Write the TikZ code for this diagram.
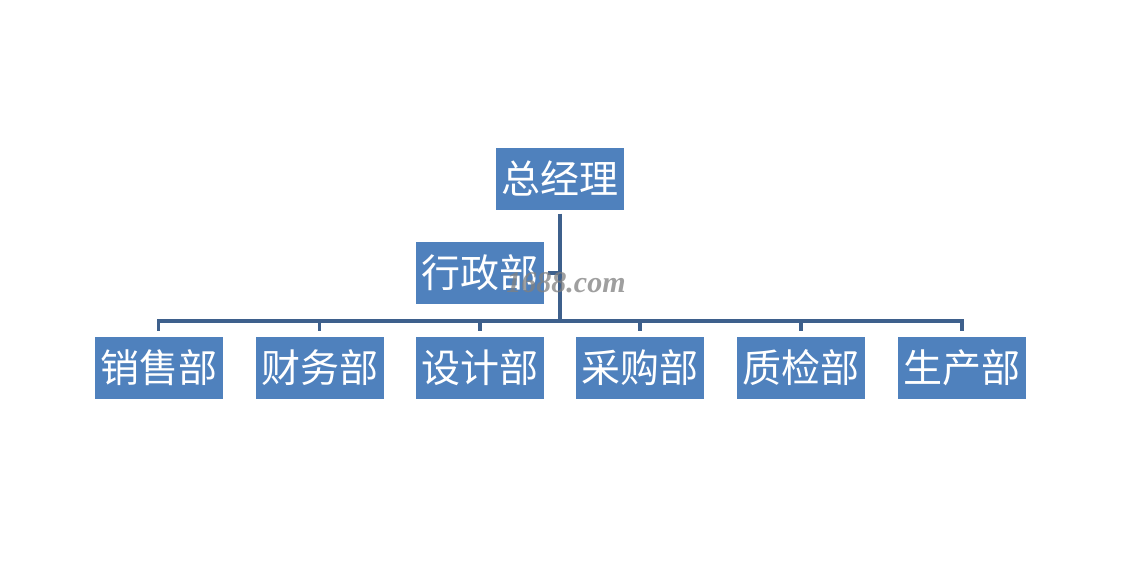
\documentclass[tikz,border=0pt]{standalone}
\usepackage{fontspec}
\newfontfamily\cjk{Noto Sans CJK SC}
\newfontfamily\wmfont{Liberation Serif}
\definecolor{boxblue}{RGB}{79,129,189}
\definecolor{lineblue}{RGB}{62,96,140}
\tikzset{
  dept/.style={fill=boxblue, text=white, minimum width=128pt, minimum height=62pt,
    inner sep=0pt, font=\cjk\fontsize{39}{42}\selectfont},
  conn/.style={draw=lineblue, line width=3.5pt}
}
\begin{document}
\begin{tikzpicture}[x=1pt,y=-1pt]
\useasboundingbox[fill=white] (0,0) rectangle (1129,562);
\node[dept] (zjl) at (560,178.5) {总经理};
\node[dept] (xzb) at (480,273) {行政部};
\node[dept] (b1) at (158.5,367.5) {销售部};
\node[dept] (b2) at (319.5,367.5) {财务部};
\node[dept] (b3) at (480,367.5) {设计部};
\node[dept] (b4) at (640,367.5) {采购部};
\node[dept] (b5) at (801,367.5) {质检部};
\node[dept] (b6) at (962,367.5) {生产部};
\coordinate (bus) at (560,321);
\coordinate (xj) at (560,273);
\draw[conn, shorten <=4pt] (zjl.south) -- (bus);
\draw[conn, shorten <=4pt] (xzb.east) -- (xj);
\foreach \b in {b1,b2,b3,b4,b5,b6}{
  \draw[conn, shorten >=5pt] (bus) -| (\b.north);
}
\node[text=gray, opacity=0.75, font=\wmfont\itshape\bfseries\fontsize{30}{32}\selectfont] (wm) at (566,283) {1688.com};
\end{tikzpicture}
\end{document}
